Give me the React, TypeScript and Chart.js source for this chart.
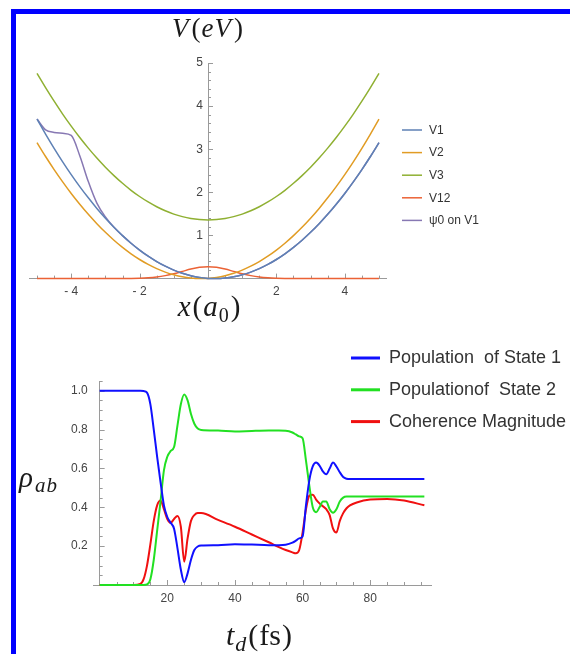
import { useEffect, useRef } from 'react';
import { Chart, registerables } from 'chart.js';

Chart.register(...registerables);
Chart.defaults.font.family = "'Liberation Sans', Arial, sans-serif";

// ---------- Top chart: potentials ----------
const xGrid = [-5, -4.75, -4.5, -4.25, -4, -3.75, -3.5, -3.25, -3, -2.75, -2.5, -2.25, -2, -1.75, -1.5, -1.25, -1, -0.75, -0.5, -0.25, 0,
  0.25, 0.5, 0.75, 1, 1.25, 1.5, 1.75, 2, 2.25, 2.5, 2.75, 3, 3.25, 3.5, 3.75, 4, 4.25, 4.5, 4.75, 5];
const v1 = [3.699, 3.352, 3.022, 2.709, 2.413, 2.134, 1.873, 1.628, 1.401, 1.190, 0.997, 0.821, 0.662, 0.520, 0.395, 0.288, 0.197, 0.123, 0.067, 0.028, 0.005,
  0.000, 0.012, 0.041, 0.088, 0.151, 0.231, 0.329, 0.443, 0.575, 0.724, 0.890, 1.073, 1.273, 1.490, 1.724, 1.975, 2.244, 2.529, 2.832, 3.152];
const v2 = [3.152, 2.832, 2.529, 2.244, 1.975, 1.724, 1.490, 1.273, 1.073, 0.890, 0.724, 0.575, 0.443, 0.329, 0.231, 0.151, 0.088, 0.041, 0.012, 0.000, 0.005,
  0.028, 0.067, 0.123, 0.197, 0.288, 0.395, 0.520, 0.662, 0.821, 0.997, 1.190, 1.401, 1.628, 1.873, 2.134, 2.413, 2.709, 3.022, 3.352, 3.699];
const v3 = [4.76, 4.429, 4.114, 3.816, 3.536, 3.272, 3.026, 2.797, 2.584, 2.389, 2.21, 2.048, 1.904, 1.777, 1.666, 1.573, 1.496, 1.437, 1.394, 1.369, 1.36,
  1.369, 1.394, 1.437, 1.496, 1.573, 1.666, 1.777, 1.904, 2.048, 2.21, 2.389, 2.584, 2.797, 3.026, 3.272, 3.536, 3.816, 4.114, 4.429, 4.76];
const v12 = [0, 0, 0, 0, 0, 0, 0, 0, 0, 0, 0.001, 0.003, 0.008, 0.018, 0.037, 0.069, 0.113, 0.167, 0.221, 0.261, 0.276,
  0.261, 0.221, 0.167, 0.113, 0.069, 0.037, 0.018, 0.008, 0.003, 0.001, 0, 0, 0, 0, 0, 0, 0, 0, 0, 0];
const psi0 = [3.70, 3.45, 3.39, 3.37, 3.32, 2.85, 2.25, 1.75, 1.43, 1.190, 0.997, 0.821, 0.662, 0.520, 0.395, 0.288, 0.197, 0.123, 0.067, 0.028, 0.005,
  0.000, 0.012, 0.041, 0.088, 0.151, 0.231, 0.329, 0.443, 0.575, 0.724, 0.890, 1.073, 1.273, 1.490, 1.724, 1.975, 2.244, 2.529, 2.832, 3.152];
const topLabels = ['V1', 'V2', 'V3', 'V12', 'ψ0 on V1'];
const topColors = ['#5E81B5', '#E19C24', '#8FB032', '#EB6235', '#8778B3'];
const topXTicks = [-4, -2, 2, 4];
const topYTicks = [1, 2, 3, 4, 5];

// ---------- Bottom chart: populations ----------
const tGrid = [0, 5, 10, 12, 13, 14, 15, 16, 17, 18, 19, 20, 21, 22, 23, 24, 25, 26, 27, 28, 29, 30, 35, 40, 45, 50, 53, 55, 57, 58, 59,
  60, 61, 62, 63, 64, 65, 66, 67, 68, 69, 70, 71, 72, 73, 74, 76, 80, 85, 90, 96];
const pop1 = [1, 1, 1, 1, 0.998, 0.99, 0.93, 0.8, 0.66, 0.53, 0.41, 0.35, 0.32, 0.29, 0.19, 0.08, 0.015, 0.06, 0.13, 0.18, 0.198, 0.203, 0.205, 0.21, 0.208, 0.205, 0.205, 0.207, 0.218, 0.228, 0.24,
  0.25, 0.41, 0.54, 0.61, 0.63, 0.615, 0.585, 0.57, 0.6, 0.63, 0.61, 0.58, 0.556, 0.547, 0.545, 0.545, 0.545, 0.545, 0.545, 0.545];
const pop2 = [0, 0, 0, 0, 0, 0.003, 0.03, 0.13, 0.28, 0.43, 0.59, 0.66, 0.69, 0.71, 0.82, 0.93, 0.98, 0.95, 0.88, 0.83, 0.805, 0.798, 0.795, 0.79, 0.793, 0.795, 0.795, 0.794, 0.785, 0.775, 0.765,
  0.755, 0.64, 0.51, 0.4, 0.375, 0.4, 0.43, 0.43, 0.39, 0.372, 0.39, 0.43, 0.45, 0.455, 0.455, 0.455, 0.455, 0.455, 0.455, 0.455];
const coh = [0, 0, 0, 0.005, 0.03, 0.1, 0.21, 0.33, 0.41, 0.435, 0.39, 0.34, 0.32, 0.34, 0.355, 0.3, 0.12, 0.24, 0.33, 0.36, 0.37, 0.37, 0.335, 0.3, 0.26, 0.22, 0.195, 0.18, 0.168, 0.163, 0.18,
  0.27, 0.39, 0.46, 0.465, 0.44, 0.42, 0.405, 0.39, 0.36, 0.29, 0.27, 0.33, 0.37, 0.395, 0.41, 0.425, 0.44, 0.443, 0.435, 0.41];
const bottomLabels = ['Population  of State 1', 'Populationof  State 2', 'Coherence Magnitude'];
const bottomColors = ['#1010ff', '#22e022', '#f01010'];
const bottomXTicks = [20, 40, 60, 80];
const bottomYTicks = [0.2, 0.4, 0.6, 0.8, 1.0];

const AXIS = '#9a9a9a';
const TICK_TEXT = '#444';
const SANS = "'Liberation Sans', Arial, sans-serif";
const SERIF = "'Liberation Serif', 'Times New Roman', serif";

type Seg = { text: string; font: string; dy?: number; gap?: number };

function drawRich(ctx: CanvasRenderingContext2D, segs: Seg[], cx: number, baseline: number) {
  let total = 0;
  const widths: number[] = [];
  for (const s of segs) {
    ctx.font = s.font;
    const w = ctx.measureText(s.text).width + (s.gap || 0);
    widths.push(w);
    total += w;
  }
  let x = cx - total / 2;
  ctx.textBaseline = 'alphabetic';
  ctx.textAlign = 'left';
  segs.forEach((s, i) => {
    ctx.font = s.font;
    ctx.fillText(s.text, x, baseline + (s.dy || 0));
    x += widths[i];
  });
}

const decorPlugin = {
  id: 'decor',
  beforeDatasetsDraw(chart: any, _a: any, opts: any) {
    const { ctx, scales } = chart;
    const xs = scales.x, ys = scales.y;
    const y0 = ys.getPixelForValue(0);
    const x0 = xs.getPixelForValue(0);
    ctx.save();
    ctx.strokeStyle = AXIS;
    ctx.lineWidth = 1;
    const eps = 1e-6;
    // x ticks (pointing up)
    for (let v = Math.ceil(xs.min / opts.xMinor) * opts.xMinor; v <= xs.max + eps; v += opts.xMinor) {
      if (Math.abs(v) < eps) continue;
      const major = Math.abs(v / opts.xMajor - Math.round(v / opts.xMajor)) < 1e-4;
      const px = Math.round(xs.getPixelForValue(v)) + 0.5;
      ctx.beginPath();
      ctx.moveTo(px, y0);
      ctx.lineTo(px, y0 - (major ? 5 : 3));
      ctx.stroke();
    }
    // y ticks (pointing right)
    for (let v = opts.yMinor; v <= ys.max + eps; v += opts.yMinor) {
      const major = Math.abs(v / opts.yMajor - Math.round(v / opts.yMajor)) < 1e-4;
      const py = Math.round(ys.getPixelForValue(v)) + 0.5;
      ctx.beginPath();
      ctx.moveTo(x0, py);
      ctx.lineTo(x0 + (major ? 5 : 3), py);
      ctx.stroke();
    }
    // y tick labels (from the scale's own ticks)
    ctx.fillStyle = TICK_TEXT;
    ctx.font = `12px ${SANS}`;
    ctx.textAlign = 'right';
    ctx.textBaseline = 'middle';
    for (const t of ys.ticks) {
      ctx.fillText(t.label, x0 - opts.yLabelPad, ys.getPixelForValue(t.value));
    }
    ctx.restore();
  },
  afterDraw(chart: any, _a: any, opts: any) {
    const { ctx } = chart;
    ctx.save();
    // legend
    const L = opts.legend;
    L.labels.forEach((lab: string, i: number) => {
      const y = L.y + i * L.dy;
      ctx.strokeStyle = L.colors[i];
      ctx.lineWidth = L.lineWidth;
      ctx.beginPath();
      ctx.moveTo(L.x, y);
      ctx.lineTo(L.x + L.len, y);
      ctx.stroke();
      ctx.fillStyle = '#333';
      ctx.font = L.font;
      ctx.textBaseline = 'middle';
      ctx.textAlign = 'left';
      ctx.fillText(lab, L.x + L.len + L.gap, y + 0.5);
    });
    // titles
    ctx.fillStyle = '#1a1a1a';
    for (const t of opts.titles) drawRich(ctx, t.segs, t.x, t.y);
    ctx.restore();
  },
};

function lineDs(label: string, xsArr: number[], ys: number[], color: string, width: number) {
  return {
    label,
    data: xsArr.map((x, i) => ({ x, y: ys[i] })),
    borderColor: color,
    backgroundColor: color,
    borderWidth: width,
    pointRadius: 0,
    fill: false,
    cubicInterpolationMode: 'monotone' as const,
    clip: false as const,
  };
}

function fmtNeg(v: number) {
  return v < 0 ? '- ' + Math.abs(v) : String(v);
}

export default function App() {
  const topRef = useRef<HTMLCanvasElement | null>(null);
  const botRef = useRef<HTMLCanvasElement | null>(null);

  useEffect(() => {
    const topSeries = [v1, v2, v3, v12, psi0];
    const top = new Chart(topRef.current as HTMLCanvasElement, {
      type: 'line',
      data: {
        datasets: topSeries.map((s, i) => lineDs(topLabels[i], xGrid, s, topColors[i], 1.5)),
      },
      options: {
        animation: false,
        responsive: false,
        devicePixelRatio: 1,
        events: [],
        layout: { padding: { left: 29.5, right: 570 - 386.5, top: 63, bottom: 654 - 278.6 } },
        plugins: {
          legend: { display: false },
          tooltip: { enabled: false },
          decor: {
            xMinor: 0.5, xMajor: 2, yMinor: 0.2, yMajor: 1, yLabelPad: 5,
            legend: { labels: topLabels, colors: topColors, x: 402, y: 130, dy: 22.6, len: 20, gap: 7, lineWidth: 1.5, font: `12px ${SANS}` },
            titles: [
              { x: 207.5, y: 37, segs: [
                { text: 'V', font: `italic 27px ${SERIF}`, gap: 3 },
                { text: '(', font: `27px ${SERIF}`, gap: 1 },
                { text: 'e', font: `italic 27px ${SERIF}`, gap: 1 },
                { text: 'V', font: `italic 27px ${SERIF}`, gap: 3 },
                { text: ')', font: `27px ${SERIF}` },
              ] },
              { x: 209, y: 316, segs: [
                { text: 'x', font: `italic 29px ${SERIF}`, gap: 2 },
                { text: '(', font: `29px ${SERIF}`, gap: 1 },
                { text: 'a', font: `italic 29px ${SERIF}`, gap: 1 },
                { text: '0', font: `20px ${SERIF}`, dy: 6, gap: 2 },
                { text: ')', font: `29px ${SERIF}` },
              ] },
            ],
          },
        } as any,
        scales: {
          x: {
            type: 'linear', min: -5.22, max: 5.22, position: { y: 0 } as any,
            grid: { display: false, drawTicks: false },
            border: { display: true, color: AXIS, width: 1 },
            afterBuildTicks: (s: any) => { s.ticks = topXTicks.map((v) => ({ value: v })); },
            ticks: { color: TICK_TEXT, font: { size: 12 }, padding: 6, autoSkip: false, maxRotation: 0, callback: (v: any) => fmtNeg(Number(v)) },
          },
          y: {
            type: 'linear', min: 0, max: 5, position: { x: 0 } as any,
            grid: { display: false, drawTicks: false },
            border: { display: true, color: AXIS, width: 1 },
            afterBuildTicks: (s: any) => { s.ticks = topYTicks.map((v) => ({ value: v })); },
            ticks: { display: false, autoSkip: false, callback: (v: any) => String(v) },
          },
        },
      },
      plugins: [decorPlugin],
    });

    const botSeries = [pop1, pop2, coh];
    const bot = new Chart(botRef.current as HTMLCanvasElement, {
      type: 'line',
      data: {
        datasets: botSeries.map((s, i) => lineDs(bottomLabels[i], tGrid, s, bottomColors[i], 2)),
      },
      options: {
        animation: false,
        responsive: false,
        devicePixelRatio: 1,
        events: [],
        layout: { padding: { left: 93.9, right: 570 - 431.8, top: 381, bottom: 654 - 585 } },
        plugins: {
          legend: { display: false },
          tooltip: { enabled: false },
          decor: {
            xMinor: 5, xMajor: 20, yMinor: 0.05, yMajor: 0.2, yLabelPad: 12,
            legend: { labels: bottomLabels, colors: bottomColors, x: 351, y: 358, dy: 31.8, len: 29, gap: 9, lineWidth: 3, font: `18px ${SANS}` },
            titles: [
              { x: 38, y: 487, segs: [
                { text: 'ρ', font: `italic 29px ${SERIF}`, gap: 2 },
                { text: 'a', font: `italic 21px ${SERIF}`, dy: 5, gap: 1 },
                { text: 'b', font: `italic 21px ${SERIF}`, dy: 5 },
              ] },
              { x: 259, y: 645, segs: [
                { text: 't', font: `italic 30px ${SERIF}`, gap: 1 },
                { text: 'd', font: `italic 22px ${SERIF}`, dy: 6, gap: 2 },
                { text: '(', font: `30px ${SERIF}`, gap: 1 },
                { text: 'fs', font: `30px ${SERIF}`, gap: 1 },
                { text: ')', font: `30px ${SERIF}` },
              ] },
            ],
          },
        } as any,
        scales: {
          x: {
            type: 'linear', min: -1.7, max: 98.2, position: { y: 0 } as any,
            grid: { display: false, drawTicks: false },
            border: { display: true, color: AXIS, width: 1 },
            afterBuildTicks: (s: any) => { s.ticks = bottomXTicks.map((v) => ({ value: v })); },
            ticks: { color: TICK_TEXT, font: { size: 12 }, padding: 6, autoSkip: false, maxRotation: 0, callback: (v: any) => String(v) },
          },
          y: {
            type: 'linear', min: 0, max: 1.05, position: { x: 0 } as any,
            grid: { display: false, drawTicks: false },
            border: { display: true, color: AXIS, width: 1 },
            afterBuildTicks: (s: any) => { s.ticks = bottomYTicks.map((v) => ({ value: v })); },
            ticks: { display: false, autoSkip: false, callback: (v: any) => Number(v).toFixed(1) },
          },
        },
      },
      plugins: [decorPlugin],
    });

    return () => {
      top.destroy();
      bot.destroy();
    };
  }, []);

  return (
    <div style={{ position: 'fixed', left: 0, top: 0, width: 570, height: 654, overflow: 'hidden', background: '#fff' }}>
      <div style={{ position: 'absolute', left: 11, top: 9, width: 620, height: 720, border: '5px solid #0000ff', boxSizing: 'border-box' }} />
      <canvas ref={topRef} width={570} height={654} style={{ position: 'absolute', left: 0, top: 0, width: 570, height: 654 }} />
      <canvas ref={botRef} width={570} height={654} style={{ position: 'absolute', left: 0, top: 0, width: 570, height: 654 }} />
    </div>
  );
}
